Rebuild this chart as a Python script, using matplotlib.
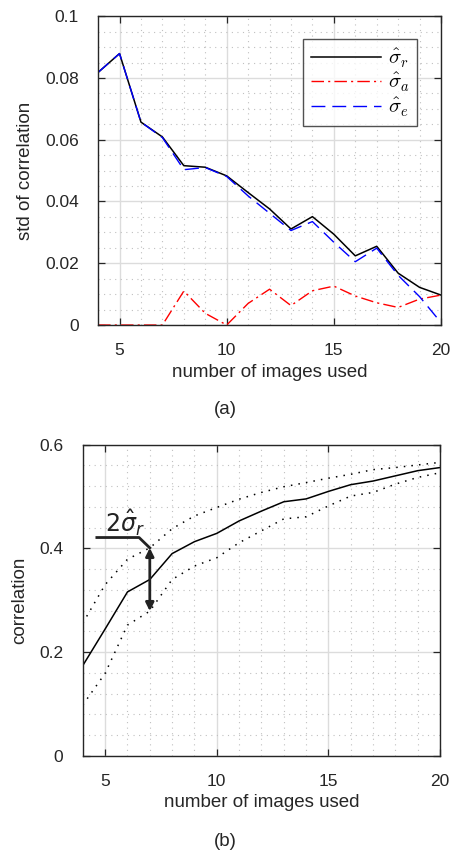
import matplotlib
matplotlib.use('Agg')
import matplotlib.pyplot as plt
from matplotlib.ticker import MultipleLocator

plt.rcParams['font.family'] = ['Liberation Sans', 'DejaVu Sans']
plt.rcParams['mathtext.fontset'] = 'cm'

n_images = [4, 5, 6, 7, 8, 9, 10, 11, 12, 13, 14, 15, 16, 17, 18, 19, 20]

# (a) std of correlation
sigma_r = [0.0818, 0.0879, 0.0657, 0.0609, 0.0516, 0.0511, 0.0483, 0.0429, 0.0376,
           0.0311, 0.0351, 0.0294, 0.0224, 0.0255, 0.0168, 0.0122, 0.0097]
sigma_a = [0.0, 0.0, 0.0, 0.0, 0.0110, 0.0038, 0.0, 0.0070, 0.0116,
           0.0063, 0.0111, 0.0126, 0.0094, 0.0072, 0.0057, 0.0084, 0.0097]
sigma_e = [0.0818, 0.0879, 0.0657, 0.0607, 0.0503, 0.0510, 0.0481, 0.0418, 0.0362,
           0.0306, 0.0335, 0.0268, 0.0205, 0.0249, 0.0161, 0.0092, 0.0008]

# (b) correlation and its band
corr_mean = [0.174, 0.2445, 0.316, 0.340, 0.390, 0.413, 0.429, 0.453, 0.472,
             0.490, 0.4955, 0.510, 0.523, 0.530, 0.540, 0.550, 0.556]
corr_upper = [0.256, 0.330, 0.379, 0.401, 0.438, 0.4626, 0.479, 0.495, 0.508,
              0.519, 0.527, 0.5355, 0.543, 0.552, 0.556, 0.561, 0.566]
corr_lower = [0.098, 0.159, 0.252, 0.279, 0.340, 0.366, 0.382, 0.411, 0.434,
              0.457, 0.461, 0.482, 0.501, 0.508, 0.524, 0.537, 0.546]

txt = '#262626'
fig = plt.figure(figsize=(4.5, 8.52), dpi=100)


def style_axes(ax, ymajor, yminor):
    ax.set_xlim(4, 20)
    ax.xaxis.set_major_locator(MultipleLocator(5))
    ax.xaxis.set_minor_locator(MultipleLocator(1))
    ax.yaxis.set_major_locator(MultipleLocator(ymajor))
    ax.yaxis.set_minor_locator(MultipleLocator(yminor))
    ax.grid(True, which='major', color='#dcdcdc', lw=1.0, ls='-')
    ax.grid(True, which='minor', color='#c0c0c0', lw=0.8, ls=(0, (1, 4)))
    ax.set_axisbelow(True)
    ax.tick_params(which='both', direction='in', top=True, right=True,
                   colors=txt, labelsize=12.5, pad=14)
    ax.tick_params(which='major', length=5, width=0.9)
    ax.tick_params(which='minor', length=0)
    ax.tick_params(axis='x', pad=13)
    for s in ax.spines.values():
        s.set_color(txt)
        s.set_linewidth(1.0)
    ax.set_xlabel('number of images used', fontsize=13.5, color=txt, labelpad=4)


# panel (a)
ax1 = fig.add_axes([0.218, 0.6185, 0.762, 0.3625])
ax1.plot(n_images, sigma_r, color='black', lw=1.1, label=r'$\hat{\sigma}_r$')
ax1.plot(n_images, sigma_a, color='red', lw=1.0, ls=(0, (9, 3, 1.5, 3)), label=r'$\hat{\sigma}_a$')
ax1.plot(n_images, sigma_e, color='blue', lw=1.0, ls=(0, (10, 5)), label=r'$\hat{\sigma}_e$')
ax1.set_ylim(0, 0.1)
style_axes(ax1, 0.02, 0.005)
ax1.set_yticks([0, 0.02, 0.04, 0.06, 0.08, 0.1])
ax1.set_yticklabels(['0', '0.02', '0.04', '0.06', '0.08', '0.1'])
ax1.set_ylabel('std of correlation', fontsize=13.5, color=txt, labelpad=8)
leg = ax1.legend(loc='upper right', bbox_to_anchor=(0.93, 0.925), fontsize=15,
                 handlelength=3.4, frameon=True, fancybox=False, borderpad=0.35,
                 labelspacing=0.05, handletextpad=0.3, borderaxespad=0)
leg.get_frame().set_edgecolor(txt)
leg.get_frame().set_linewidth(1.0)
fig.text(0.5, 1 - 410 / 852, '(a)', fontsize=13.5, color=txt, ha='center', va='center')

# panel (b)
ax2 = fig.add_axes([0.184, 0.113, 0.794, 0.365])
ax2.plot(n_images, corr_mean, color='black', lw=1.1)
ax2.plot(n_images, corr_upper, color='black', lw=1.1, ls=(0, (1, 4)))
ax2.plot(n_images, corr_lower, color='black', lw=1.1, ls=(0, (1, 4)))
ax2.set_ylim(0, 0.6)
style_axes(ax2, 0.2, 0.04)
ax2.set_yticks([0, 0.2, 0.4, 0.6])
ax2.set_yticklabels(['0', '0.2', '0.4', '0.6'])
ax2.set_ylabel('correlation', fontsize=13.5, color=txt, labelpad=8)

k = 3  # index of n = 7
ax2.annotate('', xy=(n_images[k], corr_upper[k]), xytext=(n_images[k], corr_lower[k]),
             arrowprops=dict(arrowstyle='<|-|>', color='#222222', lw=2.0,
                             mutation_scale=12, shrinkA=0, shrinkB=0))
ax2.plot([4.63, 6.52, n_images[k]], [0.421, 0.421, corr_upper[k]], color='#222222', lw=2.0)
ax2.text(5.0, 0.432, r'$2\hat{\sigma}_r$', fontsize=17, color='#222222',
         math_fontfamily='dejavusans', ha='left', va='baseline')
fig.text(0.5, 1 - 842 / 852, '(b)', fontsize=13.5, color=txt, ha='center', va='center')

fig.savefig('out.png', dpi=100)
